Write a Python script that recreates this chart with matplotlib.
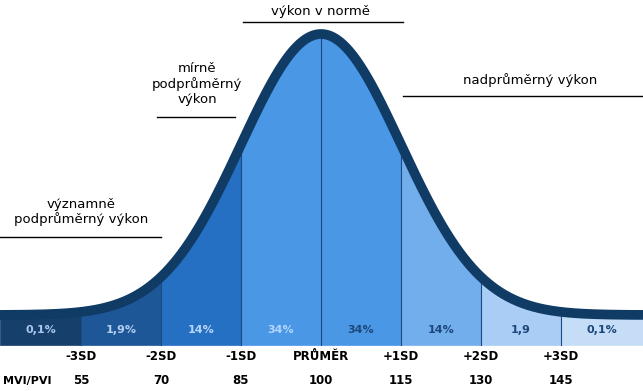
import numpy as np
import matplotlib
matplotlib.use("Agg")
import matplotlib.pyplot as plt

plt.rcParams['font.family'] = ['DejaVu Sans']

# segment boundaries in SD units and the share of cases in each band
boundaries = [-4.0125, -3, -2, -1, 0, 1, 2, 3, 4.025]
percent_labels = ["0,1%", "1,9%", "14%", "34%", "34%", "14%", "1,9", "0,1%"]
band_colors = ['#163f6c', '#1e5798', '#2670c4', '#4a97e6',
               '#4a97e6', '#72adec', '#a9cdf5', '#c5ddf7']
label_colors = ['#aac8ec', '#b3cff0', '#b7d6fb', '#b2d6ff',
                '#1d477a', '#1d477a', '#1d477a', '#1d477a']

sd_positions = [-3, -2, -1, 0, 1, 2, 3]
sd_labels = ["-3SD", "-2SD", "-1SD", "PRŮMĚR", "+1SD", "+2SD", "+3SD"]
scores = [55, 70, 85, 100, 115, 130, 145]

# performance categories: label, x-range of the underline (SD units)
categories = ["významně\npodprůměrný výkon", "mírně\npodprůměrný\nvýkon",
              "výkon v normě", "nadprůměrný výkon"]
cat_spans = [(-4.0125, -2.0), (-2.05, -1.07), (-0.98, 1.02), (1.02, 4.025)]

outline = '#0f3b65'
H = 281.0          # pixel height of the curve
BASE = 315.0       # pixel row of the baseline


def py(p):
    """pixel row -> data y"""
    return (BASE - p) / H


def gauss(z):
    return np.exp(-0.5 * z ** 2)


fig = plt.figure(figsize=(6.43, 3.91), dpi=100)
ax = fig.add_axes([0, 0, 1, 1])
ax.set_xlim(boundaries[0], boundaries[-1])
ax.set_ylim(py(391), py(0))
ax.axis('off')

bottom = py(345)
for i in range(len(percent_labels)):
    z = np.linspace(boundaries[i], boundaries[i + 1], 200)
    ax.fill_between(z, bottom, gauss(z), facecolor=band_colors[i],
                    edgecolor=band_colors[i], lw=0.5, zorder=1)
    zc = (boundaries[i] + boundaries[i + 1]) / 2
    ax.text(zc, py(330), percent_labels[i], ha='center', va='center',
            fontsize=8, fontweight='bold', color=label_colors[i], zorder=4)

for b in boundaries[1:-1]:
    ax.plot([b, b], [bottom, gauss(b)], color='#1a4a80', lw=0.8, zorder=2)

zz = np.linspace(boundaries[0], boundaries[-1], 800)
ax.plot(zz, gauss(zz), color=outline, lw=7, solid_capstyle='butt', zorder=3)

for z, lab, sc in zip(sd_positions, sd_labels, scores):
    ax.text(z, py(357), lab, ha='center', va='center', fontsize=8.5,
            fontweight='bold', color='black')
    ax.text(z, py(381), str(sc), ha='center', va='center', fontsize=8.5,
            fontweight='bold', color='black')
ax.text(boundaries[0] + 0.04, py(381), "MVI/PVI", ha='left', va='center',
        fontsize=8, fontweight='bold', color='black')

# category captions
cat_text_pos = [(-3.0, py(212)), (-1.55, py(84)), (0.0, py(12)), (2.61, py(80))]
for lab, (x0, x1), (tx, ty), ly in zip(categories, cat_spans, cat_text_pos,
                                       [237, 117, 22, 96]):
    ax.plot([x0, x1], [py(ly), py(ly)], color='black', lw=1)
    ax.text(tx, ty, lab, ha='center', va='center', fontsize=9.5,
            color='black', linespacing=1.15)

fig.savefig("out.png", dpi=100)
